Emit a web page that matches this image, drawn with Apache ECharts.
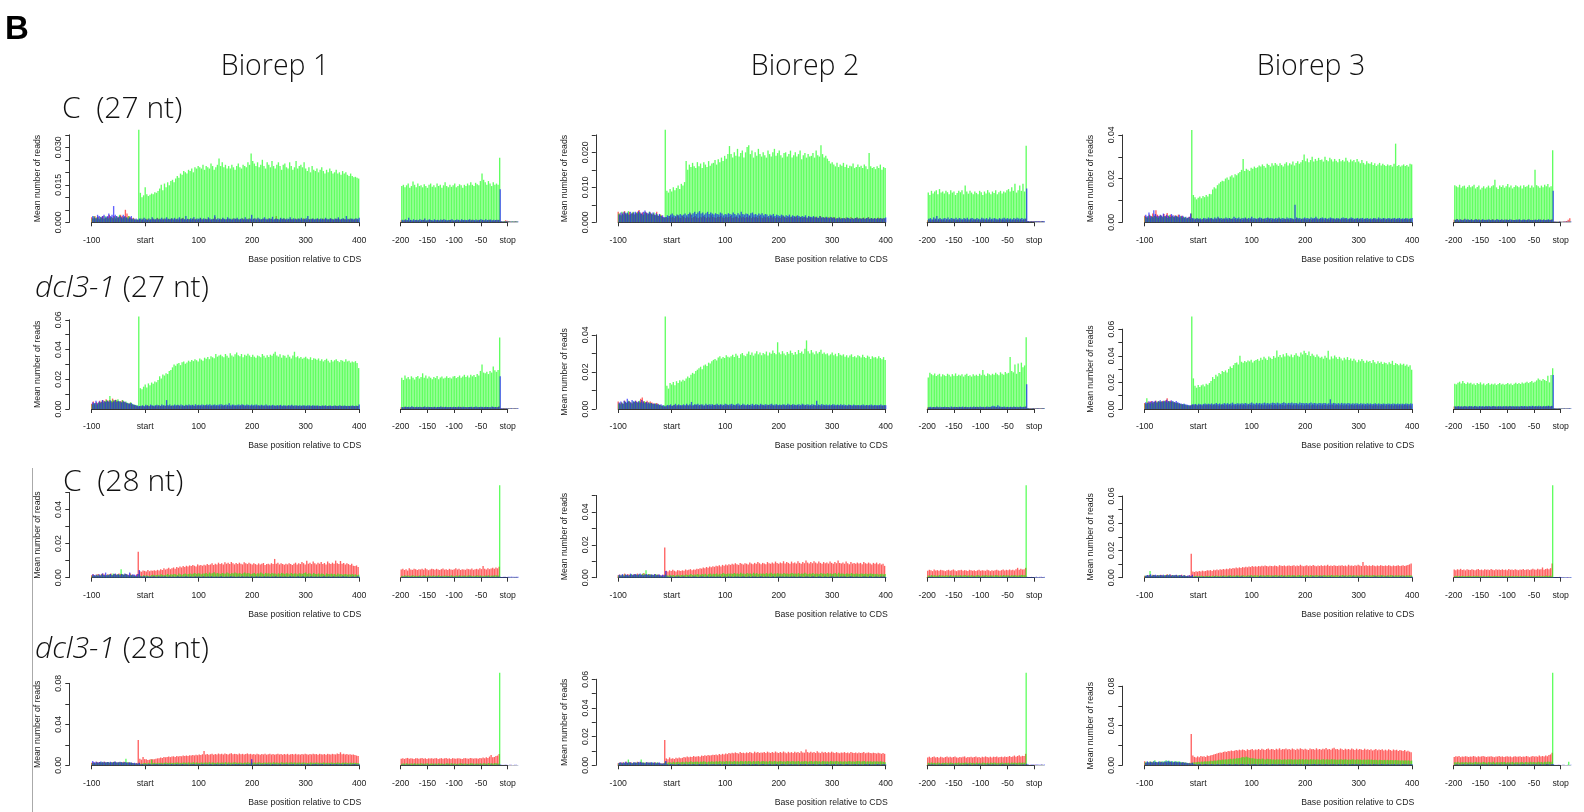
<!DOCTYPE html>
<html><head><meta charset="utf-8">
<script src="https://cdn.jsdelivr.net/npm/echarts@6/dist/echarts.min.js"></script>
<style>html,body{margin:0;padding:0;background:#fff}#c{width:1584px;height:812px}</style>
</head><body><div id="c"></div><script>
// Values are mean reads x 10000, one per codon. Start window: red -100+3i, green -99+3i, blue -98+3i.
// Stop window: red -199+3j, green -198+3j, blue -197+3j.
const COL_TITLES = ['Biorep 1', 'Biorep 2', 'Biorep 3'];
const ROW_TITLES = [['', 'C  (27 nt)'], ['dcl3-1', ' (27 nt)'], ['', 'C  (28 nt)'], ['dcl3-1', ' (28 nt)']];
const START_TICKS = ['-100', 'start', '100', '200', '300', '400'];
const STOP_TICKS = ['-200', '-150', '-100', '-50', 'stop'];

// ---------- C 27 nt, Biorep 1 ----------
const C27_B1_sR = [
20,15,25,18,22,12,20,25,15,18,
22,30,20,18,25,15,20,22,30,25,
20,50,35,25,20,15,18,12,10,10,
12,10,15,8,12,14,10,12,15,10,
12,18,14,10,12,15,12,10,14,12,
16,10,12,14,10,12,15,18,12,10,
14,12,10,15,12,14,10,12,16,12,
10,14,12,15,10,12,14,20,12,10,
15,12,14,10,12,14,12,10,15,12,
14,12,10,12,15,14,10,12,16,12,
10,14,12,15,12,10,12,14,12,10,
15,12,14,10,12,25,12,10,14,12,
15,12,10,12,14,12,10,15,12,14,
10,12,16,12,10,14,12,12,15,10,
12,14,12,10,15,12,14,10,12,15,
12,10,14,12,15,10,12,14,12,10,
12,15,12,10,14,12,10];
const C27_B1_sG = [
15,25,18,20,15,22,18,15,25,20,
15,18,22,15,20,25,18,30,20,15,
22,18,20,25,15,12,15,10,12,370,
118,100,108,140,112,105,110,115,112,120,
118,125,135,150,128,155,140,160,148,165,
170,160,175,185,178,195,190,205,200,195,
210,205,215,200,220,215,225,220,215,230,
210,225,220,215,235,225,210,220,230,255,
225,240,220,230,215,225,215,230,220,210,
225,235,220,215,230,225,220,240,230,275,
245,235,225,240,220,230,250,225,215,240,
230,220,245,225,215,230,240,225,210,230,
235,220,215,240,225,210,220,245,215,225,
230,220,240,215,205,220,200,225,210,205,
215,200,210,220,205,195,210,200,215,205,
195,200,210,195,200,190,205,195,200,190,
185,195,185,180,182,178,175];
const C27_B1_sB = [
25,20,15,30,25,20,25,30,20,25,
35,25,30,65,30,25,20,25,20,30,
25,20,15,20,25,15,12,15,10,15,
15,12,18,14,10,15,12,20,14,12,
16,12,14,18,12,15,20,14,12,16,
14,18,12,15,20,14,16,12,25,14,
12,16,14,20,12,15,14,18,12,16,
14,12,20,15,12,14,28,12,16,14,
12,18,14,12,20,15,14,12,16,14,
18,12,14,16,12,20,14,12,15,30,
14,16,12,18,14,12,15,20,14,12,
16,14,22,12,15,14,12,18,14,16,
12,15,14,20,12,16,14,12,15,14,
18,12,14,16,25,12,14,15,12,14,
16,12,15,14,12,18,14,12,16,14,
12,15,14,20,12,14,16,12,25,14,
12,15,14,12,16,14,18];
const C27_B1_eR = [
8,6,10,7,8,5,9,7,6,8,
7,9,6,8,10,7,6,8,9,7,
6,8,7,9,6,8,10,7,8,6,
9,7,8,6,8,7,9,6,8,7,
8,6,9,7,10,8,6,7,9,8,
7,9,8,6,8,10,7,8,6,9,
8,10,4,3,4,8,6,5,3,3,
3,4,3];
const C27_B1_eG = [
145,150,140,148,155,138,145,163,150,140,
155,145,148,140,152,145,138,150,155,142,
148,140,155,145,150,138,148,160,145,140,
150,142,148,155,140,145,152,148,138,150,
145,155,148,160,150,145,158,152,148,165,
195,170,160,150,165,155,145,160,150,155,
150,258,4,3,5,4,3,4,3,4,
3,4,3];
const C27_B1_eB = [
10,8,12,9,18,10,8,12,9,10,
8,12,10,9,15,8,10,12,9,8,
12,9,10,8,11,9,12,10,8,9,
10,12,8,9,11,10,8,12,9,10,
9,10,12,8,10,9,11,8,10,12,
10,8,12,9,10,11,8,10,9,10,
9,132,4,3,3,4,3,3,3,3,
3,3,3];

// ---------- C 27 nt, Biorep 2 ----------
const C27_B2_sR = [
30,25,20,28,32,22,26,30,24,28,
22,26,30,35,25,28,22,30,26,24,
28,22,25,20,30,18,22,20,15,12,
15,12,18,14,16,12,15,20,14,12,
18,15,12,16,14,25,12,15,18,14,
12,16,14,18,15,12,16,14,20,15,
14,12,16,15,18,14,12,16,14,15,
18,12,14,16,15,12,18,14,16,12,
15,14,18,12,16,14,15,12,18,14,
12,16,14,15,12,18,14,16,12,15,
14,12,16,18,14,12,15,14,16,12,
15,18,12,14,16,12,15,14,12,16,
14,12,15,16,12,14,18,12,14,15,
12,14,16,12,15,14,12,10,14,12,
10,12,14,12,10,15,12,10,12,14,
12,10,12,14,10,12,15,10,12,10,
12,10,14,12,10,12,10];
const C27_B2_sG = [
25,20,30,22,28,25,32,20,26,30,
22,28,25,30,24,20,28,26,22,30,
25,22,28,20,24,18,22,15,12,265,
90,85,95,88,100,92,98,105,95,110,
105,115,175,150,165,158,170,160,155,172,
160,168,155,172,165,158,175,162,168,170,
178,165,180,172,185,175,190,182,195,218,
195,185,200,190,210,188,198,205,185,200,
215,220,195,205,185,200,190,210,195,188,
200,192,185,205,195,188,200,210,190,198,
205,192,185,198,200,188,195,205,185,192,
200,188,195,205,180,192,198,185,195,188,
190,198,185,205,192,188,220,195,185,190,
182,175,168,172,165,160,170,158,165,162,
170,158,165,155,162,160,168,155,158,165,
158,162,155,165,160,152,198,160,155,158,
152,160,155,165,150,158,155];
const C27_B2_sB = [
22,28,25,30,26,28,22,30,25,28,
30,26,32,28,25,30,34,28,26,30,
25,28,22,26,20,24,18,20,15,15,
20,18,22,25,20,18,22,20,24,20,
22,25,20,24,28,22,26,30,24,28,
32,25,28,22,26,30,24,28,25,22,
26,24,22,28,25,20,24,22,26,24,
22,28,24,20,26,22,30,24,22,25,
24,20,26,28,22,24,20,25,22,26,
20,24,22,18,22,20,24,18,22,20,
18,22,20,16,20,18,22,16,20,18,
16,20,18,15,18,16,20,14,18,16,
15,18,14,16,12,18,14,15,12,16,
14,12,15,12,14,10,12,14,10,12,
12,10,14,12,10,12,10,12,14,10,
12,10,12,10,12,14,10,12,10,12,
10,12,10,12,10,12,14];
const C27_B2_eR = [
6,8,5,7,6,9,5,7,8,6,
7,5,8,6,7,5,9,6,7,8,
5,7,6,8,5,7,6,9,5,7,
8,6,7,5,8,6,7,5,8,6,
7,5,8,6,7,9,6,7,5,8,
6,8,5,7,6,8,7,5,8,6,
7,10,4,3,3,4,3,3,3,3,
3,3,3];
const C27_B2_eG = [
85,78,90,82,88,92,80,95,85,88,
82,90,86,80,92,85,88,78,84,90,
86,92,80,105,88,82,90,85,80,88,
84,80,90,86,78,88,82,92,85,80,
88,84,92,80,86,90,82,88,85,92,
95,88,100,90,110,85,92,105,90,110,
88,219,3,2,3,2,2,3,2,2,
2,3,2];
const C27_B2_eB = [
10,12,9,14,11,18,10,12,9,11,
12,10,14,9,12,11,10,13,9,12,
11,9,12,10,13,9,11,12,10,9,
12,10,9,13,11,10,12,9,14,10,
11,12,10,9,12,10,11,13,10,12,
10,11,9,12,10,13,11,10,12,10,
11,97,4,3,3,3,3,3,4,3,
3,4,3];

// ---------- C 27 nt, Biorep 3 ----------
const C27_B3_sR = [
30,25,22,35,28,40,30,55,35,28,
32,25,38,30,42,28,35,30,25,32,
28,35,22,30,25,20,18,22,25,40,
15,12,18,14,16,12,15,14,12,16,
14,18,15,12,16,14,20,15,12,18,
14,16,12,18,15,14,16,12,15,14,
16,12,14,18,15,12,16,14,12,15,
14,18,12,15,16,14,12,18,15,12,
16,14,12,15,18,14,12,16,14,15,
12,14,16,12,15,18,14,12,16,14,
15,12,14,16,12,15,14,18,12,16,
14,15,12,16,14,12,15,14,16,12,
14,16,12,15,14,18,12,14,16,15,
12,14,15,12,16,14,12,15,14,12,
15,12,14,16,12,14,15,12,14,16,
12,15,14,12,16,14,12,15,14,12,
14,12,15,14,12,16,14];
const C27_B3_sG = [
25,20,30,18,28,22,30,25,20,28,
30,22,28,25,20,32,24,28,22,30,
26,22,28,20,25,24,18,22,15,423,
125,115,105,112,118,110,120,115,125,118,
130,128,150,160,155,170,178,185,190,188,
200,205,195,210,215,205,220,215,225,230,
240,290,235,245,240,235,250,245,255,248,
252,260,255,265,258,250,268,262,255,270,
260,272,265,258,270,262,255,268,275,260,
270,265,278,260,272,280,268,275,285,310,
280,292,275,285,300,278,290,282,295,285,
288,278,300,285,280,295,288,278,290,282,
275,290,280,285,278,295,282,275,288,280,
285,275,290,278,270,285,272,265,280,270,
268,275,262,270,258,265,272,260,268,262,
258,265,260,262,255,268,360,258,262,255,
260,265,258,262,255,268,265];
const C27_B3_sB = [
35,28,45,30,25,55,38,30,28,35,
30,40,28,35,30,25,38,32,28,30,
25,35,28,30,22,25,20,25,40,20,
18,15,20,16,18,14,20,18,16,22,
18,20,16,22,18,25,18,20,16,18,
22,18,20,16,18,25,20,18,22,16,
20,18,22,16,20,18,25,18,20,16,
18,22,20,16,18,20,22,18,20,18,
16,20,18,22,16,20,18,16,22,18,
20,18,16,80,22,18,20,16,18,22,
18,20,16,22,18,20,25,18,16,20,
22,18,20,16,18,22,20,18,16,20,
18,16,20,22,18,20,16,18,22,20,
16,18,20,16,18,20,16,18,20,16,
18,16,20,18,16,22,18,16,20,18,
16,20,18,16,18,20,16,18,20,16,
18,16,20,18,16,18,20];
const C27_B3_eR = [
12,10,15,8,12,10,14,9,12,10,
10,13,9,12,10,14,8,12,10,11,
12,9,11,10,14,8,12,10,9,12,
10,12,9,13,10,8,12,11,10,9,
12,10,8,12,11,10,13,9,12,10,
10,12,11,9,13,10,12,9,11,10,
12,14,4,3,3,3,4,3,4,5,
6,12,18];
const C27_B3_eG = [
170,165,160,172,158,165,168,155,162,170,
160,165,172,155,162,168,150,158,165,155,
160,168,158,165,170,195,160,152,168,162,
170,158,165,175,160,168,155,162,170,165,
160,168,155,170,162,165,172,158,168,160,
240,170,165,158,168,160,172,165,175,160,
165,330,3,2,3,2,3,2,3,2,
3,2,3];
const C27_B3_eB = [
12,15,10,14,12,10,16,12,14,10,
14,10,12,15,11,13,10,14,12,10,
12,14,10,13,12,10,15,12,10,14,
10,13,12,10,14,12,11,10,13,12,
14,10,12,13,10,12,14,11,10,12,
12,10,14,12,11,13,10,12,14,10,
12,144,4,3,3,4,3,3,3,4,
3,3,4];

// ---------- dcl3-1 27 nt, Biorep 1 ----------
const D27_B1_sR = [
35,50,30,45,40,55,48,60,52,65,
55,60,50,70,58,62,55,48,52,58,
50,45,40,35,42,30,28,25,20,15,
20,18,22,15,20,25,18,22,20,16,
22,18,25,20,18,22,20,25,18,20,
24,20,18,22,25,20,18,22,20,24,
20,22,18,25,20,18,24,20,22,18,
22,25,20,18,22,20,24,18,22,20,
18,22,20,25,18,22,20,18,24,20,
22,18,20,22,25,18,20,22,18,20,
20,22,18,20,24,18,22,20,18,22,
18,20,22,18,20,22,18,24,20,18,
20,18,22,20,18,22,20,18,22,20,
18,20,22,18,20,18,22,20,18,20,
22,18,20,18,22,20,18,20,22,18,
20,18,22,20,18,20,22,18,20,18,
20,22,18,20,18,22,20];
const D27_B1_sG = [
30,35,40,28,45,38,50,42,55,60,
48,88,55,62,50,58,65,52,48,60,
45,50,42,38,45,35,30,28,25,622,
140,132,150,165,145,172,160,178,170,185,
180,195,220,205,232,225,240,235,255,262,
280,300,290,305,310,295,315,320,305,312,
325,318,330,322,335,328,320,340,332,325,
345,338,350,335,355,348,342,370,352,360,
365,355,348,370,358,345,375,360,352,368,
380,362,355,370,348,365,358,372,360,350,
365,352,345,360,355,348,370,358,345,362,
350,365,358,372,385,360,352,368,345,362,
358,345,365,352,340,360,385,348,355,342,
350,338,345,352,340,335,348,330,342,338,
332,340,325,335,320,330,338,325,312,330,
320,328,335,322,315,330,325,318,335,320,
325,312,320,315,322,310,275];
const D27_B1_sB = [
45,40,55,38,50,45,60,52,48,55,
50,58,45,52,60,48,55,50,45,52,
48,42,38,35,40,32,28,25,22,20,
22,25,20,28,24,20,30,25,22,25,
28,25,22,30,26,24,60,25,30,22,
26,30,25,28,24,30,26,22,28,25,
30,26,28,24,32,26,28,25,30,28,
26,30,28,32,25,28,30,26,28,30,
32,28,26,30,28,38,26,30,28,25,
28,30,26,32,28,25,30,28,26,30,
25,28,30,26,24,28,26,25,30,24,
26,24,28,25,22,26,24,28,22,25,
24,22,26,24,28,22,25,24,22,26,
22,25,24,22,26,24,22,25,24,22,
24,22,20,24,22,25,20,22,24,20,
22,24,20,22,25,20,22,24,20,22,
20,22,24,20,22,20,30];
const D27_B1_eR = [
12,10,15,11,13,10,14,12,11,13,
10,14,12,11,15,10,13,12,14,11,
12,13,10,14,11,12,15,10,13,12,
11,14,12,10,13,12,11,15,12,10,
13,11,12,14,10,13,12,11,14,12,
12,10,13,12,14,11,12,13,10,14,
12,18,5,4,6,5,4,5,4,4,
4,5,4];
const D27_B1_eG = [
210,195,225,205,215,200,220,210,198,215,
222,205,215,240,210,225,205,218,210,200,
215,208,222,200,212,218,205,210,220,208,
212,205,218,222,208,215,225,210,218,230,
215,225,212,230,220,228,215,235,225,256,
300,245,240,250,235,255,245,285,260,250,
262,480,4,3,4,3,3,4,3,3,
3,4,3];
const D27_B1_eB = [
14,12,16,13,15,12,18,14,12,15,
13,15,12,14,16,12,15,13,14,12,
15,12,14,13,16,12,14,15,12,13,
14,12,15,13,12,16,14,12,15,13,
12,14,13,15,12,14,16,12,13,15,
14,12,15,13,14,12,16,13,14,12,
15,220,5,4,4,5,4,4,5,4,
4,4,5];

// ---------- dcl3-1 27 nt, Biorep 2 ----------
const D27_B2_sR = [
40,30,35,28,45,32,38,42,35,30,
38,45,35,40,55,62,42,38,45,35,
40,35,30,28,32,25,22,18,15,12,
18,15,20,16,18,22,15,20,18,16,
20,18,16,22,18,20,16,18,22,20,
18,22,20,16,18,20,22,18,16,20,
22,18,20,18,22,16,20,18,22,18,
20,16,22,18,20,18,16,22,20,18,
18,20,22,16,18,20,18,22,16,20,
20,18,16,20,22,18,20,16,18,20,
18,20,18,22,16,20,18,20,22,16,
20,18,20,16,18,22,18,20,18,16,
18,16,20,18,16,20,18,16,20,18,
16,18,16,20,18,16,18,20,16,18,
18,16,18,16,20,18,16,18,16,20,
16,18,16,18,16,20,18,16,18,16,
18,16,18,16,18,16,20];
const D27_B2_sG = [
30,25,35,28,40,32,45,38,30,42,
35,40,32,45,38,30,42,36,28,35,
32,28,25,30,22,25,20,18,22,499,
125,110,140,132,145,128,150,140,155,148,
158,152,165,175,168,185,195,190,205,212,
220,228,215,235,240,232,250,245,258,265,
270,262,278,285,272,280,275,290,282,278,
285,292,280,298,288,275,295,302,290,285,
298,310,292,305,288,300,312,295,305,290,
302,295,310,288,305,298,315,302,295,360,
305,295,312,300,290,308,298,315,302,292,
308,295,318,302,310,298,325,370,312,300,
318,305,295,312,300,308,320,298,305,295,
300,288,295,305,290,298,285,302,292,288,
295,282,290,278,288,295,280,285,278,290,
285,278,292,280,275,288,282,270,285,278,
280,272,285,275,268,280,265];
const D27_B2_sB = [
35,40,30,45,38,55,42,35,48,40,
45,38,42,35,48,40,32,38,35,30,
32,28,30,25,28,22,25,20,18,15,
22,20,25,18,22,28,20,25,22,20,
25,22,28,20,25,38,22,26,24,28,
22,26,24,20,28,22,25,24,26,22,
24,28,22,26,24,22,28,25,22,26,
28,24,22,26,30,24,22,28,24,22,
26,22,24,28,22,26,24,22,28,24,
22,26,24,22,25,28,22,24,26,22,
24,22,26,24,22,28,24,22,26,24,
22,24,26,22,28,24,22,26,24,22,
26,24,22,45,24,22,26,24,22,24,
22,24,22,26,24,22,24,22,26,22,
24,22,20,24,22,20,24,22,20,22,
20,22,24,20,22,20,22,24,20,22,
22,20,22,24,20,22,20];
const D27_B2_eR = [
8,10,7,9,11,8,10,9,7,10,
9,8,11,10,7,9,10,8,11,9,
10,9,8,11,9,10,7,9,10,8,
9,11,10,8,10,9,11,8,9,10,
8,10,9,11,8,10,9,10,8,11,
10,8,11,9,10,8,9,11,10,9,
10,14,5,4,4,4,5,4,4,4,
4,4,4];
const D27_B2_eG = [
170,195,188,182,192,178,185,190,175,188,
182,178,190,185,175,188,180,192,178,185,
180,188,175,185,190,178,182,175,188,180,
185,178,190,182,210,185,178,192,188,182,
190,185,195,188,182,198,190,185,200,192,
195,280,205,198,240,190,245,200,250,225,
235,387,4,3,3,4,3,3,4,3,
3,3,4];
const D27_B2_eB = [
10,12,9,11,10,13,9,12,10,11,
12,10,11,9,13,10,12,11,9,12,
11,13,10,12,9,11,12,10,13,11,
12,10,14,11,12,10,13,12,11,14,
18,15,12,20,14,12,11,13,10,12,
11,12,10,13,11,12,10,14,11,12,
12,133,4,3,3,4,3,3,4,3,
3,4,3];

// ---------- dcl3-1 27 nt, Biorep 3 ----------
const D27_B3_sR = [
45,40,55,50,60,48,55,62,50,58,
52,60,55,65,80,58,62,55,50,48,
45,42,38,35,32,30,28,25,22,30,
30,28,32,25,30,28,26,30,28,32,
28,30,26,32,28,30,26,28,32,30,
26,30,28,32,26,30,28,26,30,28,
32,28,30,26,28,32,30,28,26,30,
28,32,26,30,28,30,26,32,28,30,
26,30,28,26,32,28,30,26,28,32,
30,28,26,30,28,32,26,28,30,26,
28,30,32,26,28,30,28,26,30,28,
26,28,30,28,26,30,28,32,26,28,
30,26,28,30,26,28,30,26,28,30,
28,26,30,28,26,28,30,26,28,26,
30,28,26,28,30,26,28,26,30,28,
26,28,30,26,28,26,30,28,26,28,
28,26,30,28,26,28,26];
const D27_B3_sG = [
40,80,45,38,50,42,55,48,60,52,
58,50,62,55,48,60,52,58,50,45,
48,42,38,35,40,32,30,28,25,695,
230,175,160,180,165,178,185,170,190,182,
195,210,240,225,258,245,270,262,285,278,
290,275,300,320,308,330,345,350,335,400,
355,348,360,352,365,358,370,350,362,368,
375,362,385,370,392,380,368,395,385,375,
398,385,440,392,405,388,412,395,420,402,
395,410,388,405,418,400,392,425,410,438,
420,405,432,398,415,402,390,410,395,385,
392,378,400,385,438,372,395,380,402,388,
375,392,380,365,385,372,390,368,380,362,
378,365,352,370,358,375,362,348,365,355,
360,345,368,352,340,358,345,355,338,350,
345,335,352,340,362,330,345,338,328,342,
332,340,325,335,318,328,295];
const D27_B3_sB = [
50,45,58,52,60,55,62,50,58,65,
55,62,58,70,60,55,65,58,52,60,
50,45,42,38,40,35,32,30,28,35,
35,38,32,40,36,34,38,42,36,40,
38,42,36,40,45,38,42,36,40,44,
40,44,38,42,48,40,38,44,42,40,
44,40,46,42,38,44,48,42,40,46,
42,46,40,44,48,42,46,40,44,48,
46,42,48,44,40,46,50,44,42,46,
44,48,42,46,44,40,48,44,46,42,
46,42,44,48,42,46,44,40,46,44,
42,46,44,40,44,73,42,46,44,40,
44,40,46,42,44,40,46,42,40,44,
40,44,42,38,44,40,42,38,44,40,
42,38,40,44,38,42,40,38,42,40,
38,42,40,38,42,40,38,42,38,40,
40,38,42,40,38,42,40];
const D27_B3_eR = [
18,15,20,16,18,14,20,17,15,19,
16,18,15,20,17,14,19,16,18,15,
19,16,18,15,20,17,16,18,15,19,
17,15,19,16,18,20,15,17,19,16,
18,16,20,15,17,19,16,18,15,20,
16,19,17,15,20,18,16,19,17,22,
18,25,5,4,4,5,4,4,4,4,
4,4,4];
const D27_B3_eG = [
190,185,198,205,192,210,195,188,200,192,
198,185,192,180,195,188,200,185,192,178,
188,195,182,190,185,192,180,188,195,185,
190,182,188,195,185,192,180,190,198,188,
195,188,200,192,198,205,195,202,210,198,
205,215,230,220,212,225,218,210,250,200,
255,307,4,3,4,3,3,4,3,3,
4,3,3];
const D27_B3_eB = [
20,18,22,19,21,18,23,20,19,22,
21,19,23,20,18,22,20,21,19,23,
20,22,19,21,23,20,18,22,21,19,
22,20,21,19,23,20,22,18,21,20,
19,22,20,23,21,19,22,20,24,21,
22,20,24,21,19,23,20,22,25,21,
23,256,5,4,4,5,4,4,5,4,
4,5,4];

// ---------- C 28 nt, Biorep 1 ----------
const C28_B1_sR = [
15,20,12,18,22,15,20,25,18,15,
20,18,25,15,22,20,18,25,22,20,
18,22,20,15,25,18,15,12,20,152,
38,35,42,40,36,45,38,42,40,44,
40,46,42,50,45,55,48,52,58,50,
55,60,52,62,58,65,60,68,62,70,
65,72,68,75,70,66,78,72,74,70,
76,72,80,74,78,85,75,82,78,88,
80,85,78,90,82,88,80,92,85,78,
86,80,88,82,78,90,84,80,88,82,
78,85,80,76,84,78,82,86,75,80,
82,78,85,80,110,82,88,78,84,80,
76,82,78,85,80,75,82,88,78,85,
80,92,85,78,100,82,88,80,95,85,
78,88,82,92,80,86,78,95,84,80,
88,82,100,85,80,98,82,86,78,84,
80,75,82,70,68,72,62];
const C28_B1_sG = [
12,15,10,18,14,12,20,15,12,18,
15,20,18,25,20,15,22,18,50,20,
18,22,15,12,18,15,12,10,8,20,
12,10,15,12,14,10,12,15,18,14,
15,18,14,20,16,15,18,22,16,20,
18,22,20,16,24,20,18,22,25,20,
22,25,20,24,28,22,26,24,20,25,
24,28,22,30,25,26,32,24,28,25,
22,28,25,24,30,26,22,28,25,30,
26,24,28,22,26,30,24,28,25,22,
24,28,22,26,24,30,25,22,28,24,
26,22,28,24,25,20,26,22,28,24,
22,26,24,20,28,22,25,24,20,26,
24,22,28,30,22,26,24,20,28,22,
22,25,20,24,22,18,25,22,20,24,
20,22,18,24,20,22,18,20,22,18,
20,18,22,18,20,16,18];
const C28_B1_sB = [
20,15,18,12,20,15,25,18,30,15,
18,22,15,20,25,18,20,15,22,18,
25,20,18,30,15,20,18,15,22,45,
8,6,10,5,8,6,7,5,8,6,
6,8,5,7,6,8,5,6,7,5,
7,5,6,8,5,7,6,5,8,6,
5,7,6,5,8,6,7,5,6,8,
6,5,7,6,8,5,6,7,5,6,
8,6,5,7,6,5,8,6,7,5,
6,7,5,8,6,5,7,6,5,8,
5,6,8,5,7,6,5,8,6,7,
6,5,7,6,8,5,6,7,5,6,
7,6,5,8,6,7,5,6,8,5,
6,8,5,6,7,5,8,6,5,7,
5,7,6,5,8,6,5,7,6,5,
8,5,6,7,5,6,8,5,7,6,
5,6,7,5,6,8,5];
const C28_B1_eR = [
48,52,45,50,42,55,48,46,52,50,
45,50,48,52,46,55,50,44,48,52,
50,46,52,48,45,50,54,47,50,45,
52,48,46,50,55,48,52,45,50,48,
46,52,50,48,54,46,50,52,48,55,
50,68,52,48,56,50,54,58,52,60,
55,64,3,2,3,2,2,3,2,2,
2,3,2];
const C28_B1_eG = [
12,10,14,11,13,10,12,14,11,12,
10,13,12,11,14,10,12,13,11,12,
13,11,12,14,10,12,11,13,12,10,
12,14,11,10,13,12,14,11,12,13,
11,12,14,13,10,12,11,14,12,13,
12,10,13,12,14,11,12,13,15,14,
13,542,3,2,2,3,2,2,3,2,
2,3,2];
const C28_B1_eB = [
5,4,6,5,4,5,6,4,5,4,
6,5,4,5,6,4,5,6,4,5,
4,5,6,4,5,6,4,5,5,6,
5,6,4,5,4,6,5,4,6,5,
4,5,6,5,4,5,6,4,5,6,
5,4,5,6,5,4,6,5,4,5,
6,5,4,5,5,4,5,5,6,5,
5,6,5];

// ---------- C 28 nt, Biorep 2 ----------
const C28_B2_sR = [
15,20,12,18,25,15,22,18,20,15,
22,18,25,20,15,22,28,20,18,22,
20,18,15,22,18,20,15,12,18,184,
42,38,45,40,48,42,38,46,44,40,
45,42,50,46,48,52,45,50,48,55,
52,58,55,62,58,65,60,68,64,70,
66,72,70,75,68,78,72,80,75,82,
78,85,80,88,82,78,90,84,80,88,
85,80,92,86,82,90,84,95,88,82,
90,86,82,95,88,84,92,86,98,90,
85,92,88,100,86,95,90,84,98,88,
92,86,100,90,85,96,88,105,92,86,
95,88,100,92,86,98,90,85,95,88,
92,86,98,90,84,95,88,105,90,86,
92,85,98,88,82,95,86,90,84,92,
86,90,82,95,88,84,92,86,80,90,
85,92,82,88,80,85,72];
const C28_B2_sG = [
15,12,18,14,20,15,12,18,22,15,
18,20,15,22,18,25,20,46,18,22,
20,18,15,22,18,15,12,10,8,20,
15,12,18,14,16,12,15,18,14,16,
18,15,20,16,18,22,16,20,18,22,
20,18,22,20,24,18,22,25,20,24,
22,26,20,24,22,28,24,22,26,24,
25,22,28,24,26,22,30,24,26,22,
28,24,26,22,30,24,28,22,26,24,
26,22,28,24,25,30,22,26,24,28,
24,26,22,28,24,26,22,25,28,24,
26,24,28,22,26,24,30,25,22,26,
24,28,22,26,24,22,28,24,26,22,
28,24,26,22,25,28,22,30,24,26,
24,22,26,24,22,28,24,22,26,24,
22,26,24,22,25,22,24,26,22,24,
22,24,20,22,24,20,22];
const C28_B2_sB = [
18,15,22,12,20,18,15,25,18,20,
22,18,20,25,18,15,20,22,18,15,
20,18,22,15,18,20,15,18,15,40,
7,5,8,6,5,7,6,8,5,6,
8,6,5,7,6,5,8,7,6,5,
6,8,7,5,6,8,5,7,6,8,
5,7,6,8,5,6,7,5,8,6,
7,5,8,6,7,5,6,8,7,5,
6,7,5,8,6,7,5,6,8,7,
5,8,6,7,5,6,8,5,7,6,
8,6,7,5,8,6,5,7,6,8,
6,5,8,7,6,5,7,8,6,5,
7,8,6,5,7,8,6,5,7,6,
5,6,7,8,5,6,7,5,8,6,
8,7,5,6,8,7,5,6,7,5,
6,5,7,8,6,5,8,7,5,6,
7,6,5,8,6,7,5];
const C28_B2_eR = [
42,48,45,40,50,44,46,42,48,45,
44,40,46,48,42,45,50,43,40,46,
45,48,42,46,44,40,48,45,42,46,
40,45,48,42,46,44,42,48,45,40,
46,42,45,48,44,42,46,50,44,48,
45,50,46,48,44,52,60,48,55,50,
52,60,3,2,2,3,2,2,3,2,
2,2,3];
const C28_B2_eG = [
14,12,16,13,15,12,14,16,13,14,
12,15,14,13,16,12,14,15,13,14,
15,13,14,16,12,14,13,15,14,12,
14,16,13,12,15,14,16,13,14,15,
13,14,16,15,12,14,13,16,14,15,
14,12,15,14,16,13,14,15,17,16,
15,562,3,2,2,3,2,2,3,2,
2,3,2];
const C28_B2_eB = [
4,5,6,4,5,4,6,5,4,5,
5,4,5,6,4,5,4,6,5,4,
6,5,4,5,6,4,5,4,6,5,
4,6,5,4,5,6,4,5,4,6,
5,4,6,5,4,5,6,5,4,5,
6,5,4,6,5,4,5,6,5,4,
5,6,5,4,5,5,4,6,5,5,
6,5,5];

// ---------- C 28 nt, Biorep 3 ----------
const C28_B3_sR = [
15,12,18,20,15,22,18,15,20,18,
22,18,15,20,25,18,22,20,15,18,
20,15,18,22,15,18,12,15,18,175,
45,42,48,44,50,46,52,48,50,55,
52,56,50,58,54,60,55,62,58,64,
60,66,62,70,65,72,68,74,70,76,
72,78,75,80,76,82,78,85,80,84,
80,86,82,88,84,90,85,82,88,86,
84,90,86,82,92,88,85,90,84,88,
90,85,88,92,84,90,86,95,88,84,
88,92,85,90,86,94,88,84,90,86,
92,86,90,88,95,85,90,86,92,88,
85,90,88,92,86,90,84,95,88,90,
86,92,88,95,90,86,115,88,92,86,
90,86,92,88,84,90,86,92,88,85,
90,86,92,88,84,90,86,88,92,86,
88,92,86,90,94,98,105];
const C28_B3_sG = [
15,18,12,49,15,20,18,14,20,16,
18,15,20,16,22,18,15,20,16,18,
15,20,16,12,18,14,12,10,8,12,
10,12,14,10,12,15,12,10,14,12,
14,12,15,12,16,14,12,15,14,16,
15,14,16,18,14,16,15,18,16,14,
16,18,15,14,18,16,20,15,18,16,
18,15,20,16,18,15,20,18,16,18,
16,20,18,15,18,20,16,18,15,20,
18,16,20,18,15,18,20,16,18,15,
20,18,15,20,18,16,18,20,15,18,
16,18,20,15,18,16,20,18,16,18,
18,15,18,20,16,18,15,20,18,16,
20,16,18,15,18,22,16,18,20,15,
18,16,20,18,15,18,16,20,18,16,
15,18,16,20,18,15,18,16,18,15,
18,16,15,18,16,18,15];
const C28_B3_sB = [
15,20,18,25,15,20,22,18,15,20,
18,22,15,20,18,25,15,20,18,22,
15,18,20,15,18,12,15,18,12,22,
6,8,5,7,6,5,8,6,7,5,
7,5,6,8,5,7,6,5,8,6,
5,7,8,6,7,5,6,8,5,7,
8,6,5,7,6,8,5,7,6,5,
6,8,7,5,8,6,7,5,6,8,
7,5,6,8,7,5,8,6,5,7,
5,6,8,7,5,6,7,8,6,5,
6,7,5,6,8,7,5,6,8,7,
8,5,7,6,5,8,6,7,5,6,
5,8,6,7,8,5,7,6,5,8,
7,6,8,5,6,7,8,5,7,6,
6,5,7,8,7,6,5,8,6,7,
8,7,6,5,8,6,7,5,6,8,
6,8,5,7,5,6,7];
const C28_B3_eR = [
60,55,62,58,65,56,60,54,62,58,
56,62,58,55,60,64,57,60,55,62,
58,60,56,63,58,55,62,58,60,56,
62,57,60,55,63,58,60,56,62,58,
55,60,58,64,57,60,62,56,60,65,
60,58,66,60,62,75,58,64,68,62,
70,105,3,2,2,3,2,2,3,2,
2,3,2];
const C28_B3_eG = [
12,14,11,13,12,15,11,13,12,14,
13,11,14,12,15,11,13,12,14,11,
12,14,13,11,12,15,13,12,11,14,
13,12,15,11,14,12,13,11,15,12,
11,14,12,13,15,12,11,14,12,13,
14,12,13,15,11,14,12,16,13,15,
14,679,3,2,2,3,2,2,3,2,
2,2,3];
const C28_B3_eB = [
5,4,5,6,4,5,6,4,5,4,
4,6,5,4,5,4,6,5,4,6,
5,4,6,5,4,6,5,4,5,6,
6,5,4,5,6,4,5,6,4,5,
4,5,5,6,4,5,4,6,5,4,
5,6,4,5,5,4,6,5,4,6,
4,5,6,5,4,6,5,5,4,5,
5,4,6];

// ---------- dcl3-1 28 nt, Biorep 1 ----------
const D28_B1_sR = [
25,30,22,35,28,32,25,30,35,28,
32,25,30,28,35,30,25,32,28,30,
35,28,25,30,22,25,20,18,22,247,
65,55,80,60,58,52,55,62,58,60,
65,68,70,75,72,80,78,82,85,80,
85,88,82,90,86,92,88,95,90,96,
92,98,95,100,96,102,98,105,100,108,
140,105,110,102,108,112,104,110,106,115,
108,112,105,115,110,106,112,118,108,112,
110,106,115,108,112,105,110,116,108,112,
106,110,104,112,108,102,110,106,112,104,
108,112,105,110,104,108,112,106,110,104,
110,106,112,104,108,110,105,112,106,108,
104,110,106,112,108,104,110,106,112,108,
110,104,112,108,106,110,104,112,108,106,
112,108,106,115,110,127,108,112,106,110,
104,108,102,106,100,95,90];
const D28_B1_sG = [
20,25,18,30,22,28,35,25,30,28,
32,25,30,28,35,25,30,28,32,25,
28,65,30,25,28,22,20,18,15,20,
15,18,20,22,18,25,20,55,22,25,
20,24,22,26,20,25,28,22,26,24,
22,26,24,28,25,22,26,28,24,26,
28,25,26,30,24,28,26,22,28,25,
26,28,24,30,26,28,25,22,28,26,
24,28,26,30,25,28,24,26,28,30,
26,24,28,25,22,28,26,30,24,28,
25,28,24,26,30,25,22,28,26,24,
28,26,24,30,26,28,24,26,30,25,
26,28,24,26,30,25,28,24,26,28,
24,26,28,25,22,26,28,24,26,25,
28,24,26,22,28,25,24,26,22,28,
25,22,26,28,24,22,26,24,28,22,
24,26,22,25,24,22,20];
const D28_B1_sB = [
42,30,35,28,32,38,30,35,28,32,
30,35,28,32,38,30,28,35,30,28,
32,28,25,30,28,22,25,20,18,25,
10,12,8,11,9,12,10,8,11,10,
12,9,11,10,8,12,10,11,9,12,
10,8,12,11,9,10,12,8,11,10,
9,11,10,12,8,10,11,9,12,10,
11,10,8,12,10,9,11,12,10,8,
12,10,11,9,12,10,8,11,10,12,
10,12,9,11,10,8,12,10,11,60,
9,11,10,12,8,11,10,9,12,10,
11,9,12,10,11,8,10,12,9,11,
10,12,8,11,10,12,9,10,11,8,
12,10,11,9,12,10,8,11,10,12,
9,11,10,12,8,10,11,9,12,10,
11,10,12,9,10,11,8,12,10,11,
10,9,11,12,10,8,10];
const D28_B1_eR = [
65,70,62,68,72,64,70,66,62,68,
70,64,68,72,65,70,62,68,66,70,
64,68,70,62,66,70,64,68,72,65,
68,62,70,66,64,68,70,65,62,68,
70,66,64,72,68,65,70,68,64,72,
68,75,70,78,72,85,100,78,82,90,
95,110,4,3,3,4,3,3,4,3,
3,3,4];
const D28_B1_eG = [
15,18,14,20,16,15,18,14,20,16,
18,15,20,16,14,18,20,15,16,18,
14,18,16,20,15,18,14,16,20,18,
16,20,15,18,14,16,18,20,15,16,
18,14,16,20,18,15,16,18,14,20,
16,20,18,15,22,18,20,16,22,20,
18,903,3,2,3,2,2,3,2,2,
3,2,2];
const D28_B1_eB = [
5,6,4,5,6,5,4,6,5,4,
6,4,5,6,5,4,6,5,4,6,
5,6,4,5,4,6,5,4,6,5,
4,5,6,4,6,5,4,5,6,4,
6,5,4,6,5,4,5,6,4,5,
5,4,6,5,4,6,5,4,5,6,
6,8,5,4,5,5,4,5,5,4,
5,5,4];

// ---------- dcl3-1 28 nt, Biorep 2 ----------
const D28_B2_sR = [
15,20,18,22,15,25,18,20,22,15,
20,18,25,20,22,18,20,15,22,18,
20,15,18,22,15,18,15,12,15,177,
48,42,55,45,50,44,52,48,55,50,
52,58,55,62,56,60,58,65,60,62,
64,60,68,65,70,66,72,68,70,74,
72,76,70,78,74,80,76,82,78,85,
82,88,84,90,86,82,92,86,88,84,
90,86,92,88,84,95,88,92,86,90,
88,92,86,95,90,85,92,88,96,90,
86,92,88,96,90,84,94,88,92,86,
95,88,92,86,98,90,88,110,92,88,
95,88,92,86,98,90,85,94,88,92,
86,92,88,95,90,86,92,88,84,90,
88,92,86,90,84,92,88,86,90,84,
90,86,88,92,84,88,90,86,84,88,
86,82,88,84,80,85,80];
const D28_B2_sG = [
15,18,12,20,15,18,40,20,15,18,
20,18,22,15,40,20,18,22,15,20,
18,20,15,18,22,15,12,10,12,25,
18,20,22,18,25,20,22,24,20,22,
24,20,26,22,24,28,22,25,24,26,
22,26,24,28,25,22,26,24,28,25,
26,28,24,30,26,28,25,30,26,28,
28,25,30,26,28,24,30,28,26,30,
26,30,28,25,30,26,28,30,24,28,
30,26,28,24,30,28,26,30,28,25,
28,30,26,28,25,30,28,26,30,28,
26,28,30,25,28,26,30,28,24,28,
30,26,28,30,26,28,25,30,28,26,
28,25,30,28,26,28,30,25,28,26,
26,28,25,28,30,26,28,25,28,30,
28,26,28,30,25,28,26,28,25,28,
26,28,25,28,26,24,22];
const D28_B2_sB = [
18,22,15,20,25,18,22,20,15,22,
20,18,22,25,20,18,15,22,20,18,
22,18,20,15,18,20,15,12,15,30,
8,6,9,7,8,6,7,9,8,6,
7,9,6,8,7,6,9,8,6,7,
9,7,8,6,9,7,6,8,7,9,
6,8,7,9,6,8,9,7,6,8,
8,7,9,6,8,7,6,9,8,7,
7,9,6,8,7,9,8,6,7,9,
9,6,8,7,9,6,7,8,9,6,
6,8,9,7,6,8,7,9,6,8,
8,7,6,9,8,7,9,6,8,7,
7,9,8,6,7,9,6,8,7,9,
9,6,7,8,9,6,8,7,9,6,
6,8,9,7,6,8,7,9,6,8,
8,7,6,9,8,7,9,6,8,7,
7,9,8,6,7,9,6];
const D28_B2_eR = [
55,60,52,58,62,55,58,52,60,56,
52,58,62,55,60,54,58,62,55,52,
58,55,60,62,52,58,56,60,54,58,
62,55,58,52,60,56,62,58,55,60,
55,60,58,62,55,58,60,56,62,58,
60,65,58,62,68,60,65,70,62,66,
65,80,3,2,3,2,2,3,2,2,
2,3,2];
const D28_B2_eG = [
18,15,20,16,18,14,20,17,15,18,
16,19,15,18,20,16,14,18,16,20,
15,18,16,20,17,15,19,16,18,15,
19,16,18,15,20,17,16,18,15,19,
16,20,17,15,18,16,19,15,18,16,
18,15,19,17,20,16,18,20,17,19,
18,645,3,2,2,3,2,2,3,2,
2,3,2];
const D28_B2_eB = [
6,5,7,5,6,4,6,5,7,5,
5,6,4,6,5,7,5,6,4,6,
6,4,6,5,7,5,6,4,5,6,
5,7,5,6,4,6,5,7,6,5,
7,5,6,4,6,5,7,5,6,4,
5,6,5,7,5,6,4,6,5,7,
6,10,5,4,5,5,4,5,5,4,
5,4,5];

// ---------- dcl3-1 28 nt, Biorep 3 ----------
const D28_B3_sR = [
40,25,30,28,35,30,25,32,28,30,
35,28,30,32,25,30,35,28,30,32,
28,30,25,28,32,25,22,20,25,316,
100,85,78,90,82,95,88,92,85,98,
95,100,105,110,115,120,125,130,128,135,
140,135,145,142,150,145,148,155,150,158,
152,160,155,148,162,155,158,165,152,160,
158,165,155,168,160,155,165,170,158,165,
162,155,168,160,172,158,165,162,170,160,
165,158,170,162,155,168,160,172,165,158,
168,160,155,170,162,165,158,172,160,165,
158,168,162,175,160,165,158,170,178,162,
165,158,170,162,155,168,160,165,158,170,
162,155,168,158,165,160,155,168,158,162,
155,162,150,158,165,152,160,155,162,150,
158,150,162,155,148,160,152,158,145,155,
150,145,155,140,148,138,132];
const D28_B3_sG = [
30,35,28,40,32,38,50,35,30,40,
35,42,38,50,40,45,38,42,35,40,
38,42,35,30,32,28,25,22,20,25,
28,32,30,35,32,38,35,40,38,42,
40,45,42,48,45,50,55,52,58,55,
60,58,62,65,60,68,65,70,72,75,
80,85,78,88,82,75,70,72,68,65,
62,65,60,68,62,58,65,60,62,58,
60,55,62,58,60,55,58,62,56,60,
58,62,56,60,58,55,60,58,62,56,
60,58,55,62,58,60,56,62,58,55,
58,62,56,60,58,55,62,58,60,56,
55,58,60,56,58,62,55,58,56,60,
58,55,60,56,58,54,58,56,55,58,
55,58,54,56,55,52,56,54,52,55,
52,55,50,54,52,50,54,52,50,48,
50,48,52,48,50,45,48];
const D28_B3_sB = [
25,40,30,35,28,42,35,30,38,32,
35,30,42,38,45,35,40,32,38,35,
30,35,28,32,25,28,22,20,18,25,
12,10,9,11,12,8,10,12,11,9,
10,12,11,9,10,12,8,11,10,12,
11,9,12,10,8,11,12,10,9,11,
12,10,8,11,12,9,10,11,12,10,
9,11,12,10,9,12,11,8,10,12,
11,10,9,12,11,10,12,9,11,10,
12,8,11,10,12,9,10,12,8,11,
10,12,9,11,10,12,11,9,12,10,
8,11,12,10,9,11,10,12,11,9,
12,10,11,9,12,10,8,11,10,12,
9,12,10,11,8,12,11,10,9,11,
11,9,12,10,11,9,10,12,11,10,
10,12,9,11,10,12,9,11,10,9,
12,10,11,9,10,11,10];
const D28_B3_eR = [
85,92,88,95,82,90,86,92,88,84,
90,86,94,88,82,92,86,90,95,88,
84,90,88,92,86,82,90,88,94,86,
90,84,88,92,86,90,82,88,92,86,
88,92,84,90,86,94,88,82,90,95,
88,92,86,98,90,94,88,100,92,105,
110,128,4,3,3,4,3,3,4,3,
3,3,4];
const D28_B3_eG = [
30,28,35,26,32,30,28,34,27,30,
32,26,30,35,28,32,27,30,34,28,
27,32,30,28,35,26,30,32,28,34,
30,34,27,32,28,30,35,26,32,30,
28,30,34,27,32,30,28,35,30,32,
32,28,35,30,34,28,36,32,38,35,
35,935,4,3,3,4,3,3,4,3,
3,37,3];
const D28_B3_eB = [
8,10,7,9,8,11,7,9,10,8,
9,7,10,8,11,9,8,10,7,9,
10,8,9,11,7,10,9,8,10,9,
8,11,9,7,10,8,9,11,8,10,
9,8,11,10,8,9,10,7,9,11,
10,9,8,11,9,10,8,12,10,9,
11,14,5,4,5,5,4,5,5,4,
5,4,5];

// ---------- panel table (axis settings per panel) ----------
const PANELS = [
 {r:0,c:0,yLim:0.037, yTop:0.035,yStep:0.005,yLab:[0,0.015,0.03],dec:3,st:[C27_B1_sR,C27_B1_sG,C27_B1_sB],sp:[C27_B1_eR,C27_B1_eG,C27_B1_eB]},
 {r:0,c:1,yLim:0.02645,yTop:0.025,yStep:0.005,yLab:[0,0.01,0.02],dec:3,st:[C27_B2_sR,C27_B2_sG,C27_B2_sB],sp:[C27_B2_eR,C27_B2_eG,C27_B2_eB]},
 {r:0,c:2,yLim:0.04234,yTop:0.04,yStep:0.01,yLab:[0,0.02,0.04],dec:2,st:[C27_B3_sR,C27_B3_sG,C27_B3_sB],sp:[C27_B3_eR,C27_B3_eG,C27_B3_eB]},
 {r:1,c:0,yLim:0.0622, yTop:0.06,yStep:0.01,yLab:[0,0.02,0.04,0.06],dec:2,st:[D27_B1_sR,D27_B1_sG,D27_B1_sB],sp:[D27_B1_eR,D27_B1_eG,D27_B1_eB]},
 {r:1,c:1,yLim:0.0499, yTop:0.04,yStep:0.01,yLab:[0,0.02,0.04],dec:2,st:[D27_B2_sR,D27_B2_sG,D27_B2_sB],sp:[D27_B2_eR,D27_B2_eG,D27_B2_eB]},
 {r:1,c:2,yLim:0.0695, yTop:0.06,yStep:0.01,yLab:[0,0.02,0.04,0.06],dec:2,st:[D27_B3_sR,D27_B3_sG,D27_B3_sB],sp:[D27_B3_eR,D27_B3_eG,D27_B3_eB]},
 {r:2,c:0,yLim:0.0542, yTop:0.05,yStep:0.01,yLab:[0,0.02,0.04],dec:2,st:[C28_B1_sR,C28_B1_sG,C28_B1_sB],sp:[C28_B1_eR,C28_B1_eG,C28_B1_eB]},
 {r:2,c:1,yLim:0.0562, yTop:0.05,yStep:0.01,yLab:[0,0.02,0.04],dec:2,st:[C28_B2_sR,C28_B2_sG,C28_B2_sB],sp:[C28_B2_eR,C28_B2_eG,C28_B2_eB]},
 {r:2,c:2,yLim:0.0679, yTop:0.06,yStep:0.01,yLab:[0,0.02,0.04,0.06],dec:2,st:[C28_B3_sR,C28_B3_sG,C28_B3_sB],sp:[C28_B3_eR,C28_B3_eG,C28_B3_eB]},
 {r:3,c:0,yLim:0.0903, yTop:0.08,yStep:0.02,yLab:[0,0.04,0.08],dec:2,st:[D28_B1_sR,D28_B1_sG,D28_B1_sB],sp:[D28_B1_eR,D28_B1_eG,D28_B1_eB]},
 {r:3,c:1,yLim:0.0645, yTop:0.06,yStep:0.01,yLab:[0,0.02,0.04,0.06],dec:2,st:[D28_B2_sR,D28_B2_sG,D28_B2_sB],sp:[D28_B2_eR,D28_B2_eG,D28_B2_eB]},
 {r:3,c:2,yLim:0.0935, yTop:0.08,yStep:0.02,yLab:[0,0.04,0.08],dec:2,st:[D28_B3_sR,D28_B3_sG,D28_B3_sB],sp:[D28_B3_eR,D28_B3_eG,D28_B3_eB]}
];

// ---------- layout ----------
const S = 0.535;              // px per base
const PLOT_H = 92.5;
const ROW_BASE = [222.3, 409, 577.7, 765.3];
const COL_X = [91.7, 618.2, 1144.7];
const STOP_DX = 309;
const Y_OFF = 22.4;
const COL_TITLE_X = [275, 805, 1311];
const ROW_TITLE = [{x:62,y:109},{x:35,y:288},{x:63,y:482},{x:35,y:649}];
const FRAME_COLORS = ['rgba(255,0,0,0.62)','rgba(0,255,0,0.62)','rgba(0,0,255,0.62)'];
const SMALL = {color:'#222', fontSize:8.7, fontFamily:'Liberation Sans, Arial, sans-serif'};
const BIG = '"Open Sans", Roboto, sans-serif';
const BIG_SIZE = 28.5;
const ROW_SIZE = 30;
const axLine = {show:true, onZero:false, lineStyle:{color:'#333', width:1}};
const axTick = {show:true, length:4, lineStyle:{color:'#333', width:1}};

const option = {animation:false, backgroundColor:'#fff', grid:[], xAxis:[], yAxis:[], series:[], graphic:{elements:[]}};
const G = option.graphic.elements;
const hidden = {show:false, axisLine:{onZero:false}};

PANELS.forEach((p, k) => {
  const x0 = COL_X[p.c], base = ROW_BASE[p.r], g = k * 4;
  const hAx = p.yTop / p.yLim * PLOT_H;
  option.grid.push(
    {left:x0, top:base - PLOT_H, width:500 * S, height:PLOT_H},
    {left:x0, top:base - hAx, width:500 * S, height:hAx},
    {left:x0 + STOP_DX, top:base - PLOT_H, width:220 * S, height:PLOT_H},
    {left:x0 + STOP_DX, top:base - PLOT_H, width:200 * S, height:PLOT_H});
  option.xAxis.push(
    {gridIndex:g, type:'value', min:-100, max:400, interval:100, axisLine:axLine, axisTick:axTick, splitLine:{show:false},
     axisLabel:Object.assign({margin:13.5, showMinLabel:true, showMaxLabel:true,
       formatter:v => START_TICKS[Math.round((v + 100) / 100)]}, SMALL)},
    Object.assign({gridIndex:g + 1, type:'value', min:-100, max:400}, hidden),
    Object.assign({gridIndex:g + 2, type:'value', min:-200, max:20}, hidden),
    {gridIndex:g + 3, type:'value', min:-200, max:0, interval:50, axisLine:axLine, axisTick:axTick, splitLine:{show:false},
     axisLabel:Object.assign({margin:13.5, showMinLabel:true, showMaxLabel:true,
       formatter:v => STOP_TICKS[Math.round((v + 200) / 50)]}, SMALL)});
  option.yAxis.push(
    Object.assign({gridIndex:g, type:'value', min:0, max:p.yLim}, hidden),
    {gridIndex:g + 1, type:'value', min:0, max:p.yTop, interval:p.yStep, offset:Y_OFF, position:'left',
     axisLine:axLine, axisTick:axTick, splitLine:{show:false},
     axisLabel:Object.assign({rotate:90, margin:6, showMinLabel:true, showMaxLabel:true,
       formatter:v => p.yLab.some(l => Math.abs(l - v) < 1e-9) ? v.toFixed(p.dec) : ''}, SMALL)},
    Object.assign({gridIndex:g + 2, type:'value', min:0, max:p.yLim}, hidden),
    Object.assign({gridIndex:g + 3, type:'value', min:0, max:p.yLim}, hidden));
  [0, 1, 2].forEach(f => {
    option.series.push({type:'bar', xAxisIndex:g, yAxisIndex:g, barWidth:1.35, barGap:'-100%', clip:false, silent:true,
      itemStyle:{color:FRAME_COLORS[f]}, data:p.st[f].slice(0, 167).map((v, i) => [-100 + f + 3 * i, v / 1e4])});
    option.series.push({type:'bar', xAxisIndex:g + 2, yAxisIndex:g + 2, barWidth:1.35, barGap:'-100%', clip:false, silent:true,
      itemStyle:{color:FRAME_COLORS[f]}, data:p.sp[f].slice(0, 73).map((v, i) => [-199 + f + 3 * i, v / 1e4])});
  });
  G.push({type:'text', x:x0 - 53.7, y:base - hAx / 2, rotation:Math.PI / 2,
    style:{text:'Mean number of reads', fill:'#222', fontSize:8.7, fontFamily:SMALL.fontFamily,
      align:'center', verticalAlign:'middle', textAlign:'center', textVerticalAlign:'middle'}});
  G.push({type:'text', x:x0 + 213, y:base + 37,
    style:{text:'Base position relative to CDS', fill:'#222', fontSize:8.7, fontFamily:SMALL.fontFamily,
      align:'center', verticalAlign:'middle', textAlign:'center', textVerticalAlign:'middle'}});
});

G.push({type:'text', x:5, y:30, style:{text:'B', fill:'#000', fontSize:33, fontWeight:'bold', fontFamily:'Liberation Sans, Arial, sans-serif',
  align:'left', verticalAlign:'middle', textAlign:'left', textVerticalAlign:'middle'}});
COL_TITLES.forEach((t, c) => G.push({type:'text', x:COL_TITLE_X[c], y:67,
  style:{text:t, fill:'#111', fontSize:BIG_SIZE, fontWeight:300, fontFamily:BIG,
    align:'center', verticalAlign:'middle', textAlign:'center', textVerticalAlign:'middle'}}));
ROW_TITLES.forEach((t, r) => G.push({type:'text', x:ROW_TITLE[r].x, y:ROW_TITLE[r].y,
  style:{text:(t[0] ? '{i|' + t[0] + '}' : '') + t[1], fill:'#111', fontSize:ROW_SIZE, fontWeight:300, fontFamily:BIG,
    align:'left', verticalAlign:'middle', textAlign:'left', textVerticalAlign:'middle',
    rich:{i:{fontStyle:'italic', fontSize:ROW_SIZE, fontWeight:300, fontFamily:BIG, fill:'#111'}}}}));
G.push({type:'line', shape:{x1:32.5, y1:468, x2:32.5, y2:812}, style:{stroke:'#aaa', lineWidth:1}});

const chart = echarts.init(document.getElementById('c'), null, {renderer:'canvas'});
chart.setOption(option);
</script></body></html>
